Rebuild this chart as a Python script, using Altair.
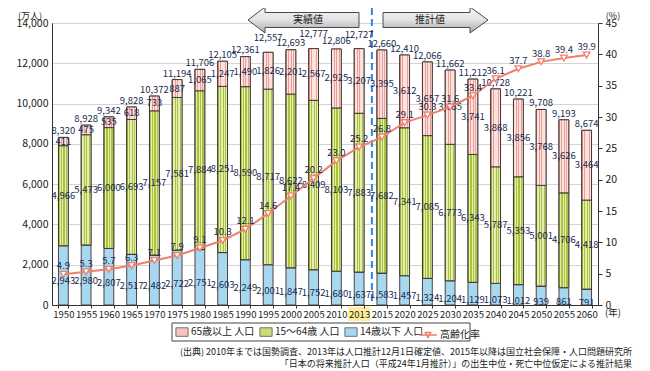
import altair as alt
import pandas as pd

years = ["1950", "1955", "1960", "1965", "1970", "1975", "1980", "1985", "1990", "1995",
         "2000", "2005", "2010", "2013", "2015", "2020", "2025", "2030", "2035", "2040",
         "2045", "2050", "2055", "2060"]
under14 = [2943, 2980, 2807, 2517, 2482, 2722, 2751, 2603, 2249, 2001, 1847, 1752, 1680,
           1637, 1583, 1457, 1324, 1204, 1129, 1073, 1012, 939, 861, 791]
age15_64 = [4966, 5473, 6000, 6693, 7157, 7581, 7884, 8251, 8590, 8717, 8622, 8409, 8103,
            7883, 7682, 7341, 7085, 6773, 6343, 5787, 5353, 5001, 4706, 4418]
over65 = [411, 475, 535, 618, 733, 887, 1065, 1247, 1490, 1826, 2201, 2567, 2925,
          3207, 3395, 3612, 3657, 3685, 3741, 3868, 3856, 3768, 3626, 3464]
totals = [8320, 8928, 9342, 9828, 10372, 11194, 11706, 12105, 12361, 12557, 12693, 12777,
          12806, 12727, 12660, 12410, 12066, 11662, 11212, 10728, 10221, 9708, 9193, 8674]
aging_rate = [4.9, 5.3, 5.7, 6.3, 7.1, 7.9, 9.1, 10.3, 12.1, 14.6, 17.4, 20.2, 23.0, 25.2,
              26.8, 29.1, 30.3, 31.6, 33.4, 36.1, 37.7, 38.8, 39.4, 39.9]

G65 = "65歳以上 人口"
G15 = "15～64歳 人口"
G14 = "14歳以下 人口"
GR = "高齢化率"
bar_groups = [G65, G15, G14]
bar_colors = ["#F6C4BE", "#CADB78", "#A8D8F0"]

rows = []
for i, y in enumerate(years):
    rows.append({"year": y, "group": G14, "value": under14[i], "order": 0})
    rows.append({"year": y, "group": G15, "value": age15_64[i], "order": 1})
    rows.append({"year": y, "group": G65, "value": over65[i], "order": 2})
long_df = pd.DataFrame(rows)
tot_df = pd.DataFrame({"year": years, "total": totals})
rate_df = pd.DataFrame({"year": years, "rate": aging_rate, "g": [GR] * len(years)})

FONT = "Noto Sans CJK JP"
TXT = "#1c2b50"
SALMON = "#F0806C"
LFS = 9.5  # data label font size


def stripes(c1, c2, n, frac):
    stops = []
    for k in range(n):
        a = k / n
        b = a + frac / n
        e = (k + 1) / n
        stops += [(a, c1), (b, c1), (b, c2), (e, c2)]
    return alt.Gradient(gradient="linear", x1=0, x2=1, y1=0, y2=0,
                        stops=[alt.GradientStop(offset=round(o, 4), color=c) for o, c in stops])


green_grad = stripes("#A9C43C", "#E4EDB2", 4, 0.5)
pink_grad = stripes("#EF9C94", "#FBE2DF", 4, 0.35)
arrow_grad = alt.Gradient(gradient="linear", x1=0, x2=0, y1=0, y2=1,
                          stops=[alt.GradientStop(offset=0, color="#f7f7f7"),
                                 alt.GradientStop(offset=0.5, color="#e2e2e2"),
                                 alt.GradientStop(offset=1, color="#a9a9a9")])

RECT_SYM = "M-1,-0.7L1,-0.7L1,0.7L-1,0.7Z"
LINE_SYM = "M-1,0L1,0M-0.3,-0.28L0.3,-0.28L0,0.28Z"

bar_legend = alt.Legend(
    title=None, orient="none", legendX=123, legendY=302, direction="horizontal",
    labelFontSize=10, labelColor="#222", labelFont=FONT, columnPadding=3, labelOffset=2,
    symbolSize=150, symbolType=RECT_SYM, symbolStrokeColor="#555", symbolStrokeWidth=0.8,
    symbolOpacity=1)
line_legend = alt.Legend(
    title=None, orient="none", legendX=366, legendY=302, direction="horizontal",
    labelFontSize=10, labelColor="#222", labelFont=FONT, labelOffset=2,
    symbolSize=324, symbolType=LINE_SYM, symbolStrokeColor=SALMON, symbolFillColor="white",
    symbolStrokeWidth=1.5, symbolOpacity=1)

X = alt.X("year:N", sort=years,
          scale=alt.Scale(paddingInner=0.57, paddingOuter=0.285),
          axis=alt.Axis(title=None, labelAngle=0, labelFontSize=9.5, labelOverlap=False,
                        labelFlush=False, tickBand="extent", tickSize=3, labelPadding=1,
                        zindex=1, labelColor="#222"))
yL_scale = alt.Scale(domain=[0, 14000], nice=False)
yL_axis = alt.Axis(title=None, values=list(range(0, 14001, 2000)), format=",d", grid=True,
                   gridColor="#d4d4d4", ticks=False, labelPadding=4, labelFontSize=10.5)

base = alt.Chart(long_df).transform_stack(
    stack="value", groupby=["year"], as_=["y0", "y1"],
    sort=[alt.SortField("order", order="ascending")]
).transform_calculate(mid="(datum.y0 + datum.y1) / 2")

bars = base.mark_bar(stroke="#3a3030", strokeWidth=0.9).encode(
    x=X,
    y=alt.Y("y0:Q", scale=yL_scale, axis=yL_axis),
    y2="y1:Q",
    color=alt.Color("group:N", scale=alt.Scale(domain=bar_groups, range=bar_colors),
                    legend=bar_legend),
)
green_over = base.transform_filter(alt.datum.group == G15).mark_bar(
    fill=green_grad, stroke="#3a3030", strokeWidth=0.9).encode(
    x=X, y=alt.Y("y0:Q", scale=yL_scale, axis=yL_axis), y2="y1:Q")
pink_over = base.transform_filter(alt.datum.group == G65).mark_bar(
    fill=pink_grad, stroke="#3a3030", strokeWidth=0.9).encode(
    x=X, y=alt.Y("y0:Q", scale=yL_scale, axis=yL_axis), y2="y1:Q")

lbl65 = base.transform_filter(alt.datum.group == G65).mark_text(
    fontSize=LFS, color=TXT, font=FONT).encode(
    x=X, y=alt.Y("mid:Q", scale=yL_scale, axis=yL_axis), text=alt.Text("value:Q", format=",d"))
lbl15 = base.transform_filter(alt.datum.group == G15).mark_text(
    fontSize=LFS, color=TXT, font=FONT).encode(
    x=X, y=alt.Y("mid:Q", scale=yL_scale, axis=yL_axis), text=alt.Text("value:Q", format=",d"))
lbl14 = base.transform_filter(alt.datum.group == G14).mark_text(
    fontSize=LFS, color=TXT, font=FONT, dy=6).encode(
    x=X, y=alt.Y("mid:Q", scale=yL_scale, axis=yL_axis), text=alt.Text("value:Q", format=",d"))

stagger = "indexof(['1995', '2005', '2013'], datum.year) >= 0"
lbl_tot = alt.Chart(tot_df).transform_filter("!(" + stagger + ")").mark_text(
    fontSize=LFS, color=TXT, font=FONT, baseline="bottom", dy=-1).encode(
    x=X, y=alt.Y("total:Q", scale=yL_scale, axis=yL_axis), text=alt.Text("total:Q", format=",d"))
lbl_tot_hi = alt.Chart(tot_df).transform_filter(stagger).mark_text(
    fontSize=LFS, color=TXT, font=FONT, baseline="bottom", dy=-9).encode(
    x=X, y=alt.Y("total:Q", scale=yL_scale, axis=yL_axis), text=alt.Text("total:Q", format=",d"))

hl = alt.Chart(pd.DataFrame({"year": ["2013"]})).mark_bar(width=22, fill="#FFEF9A").encode(
    x=X, y=alt.value(284), y2=alt.value(298))

divider = alt.Chart(pd.DataFrame({"year": ["2015"]})).mark_rule(
    strokeDash=[7, 4], color="#2E86DE", strokeWidth=2, xOffset=-10).encode(
    x=X, y=alt.value(-15), y2=alt.value(282))

left = alt.layer(hl, bars, green_over, pink_over, divider, lbl65, lbl15, lbl14,
                 lbl_tot, lbl_tot_hi)

yR_scale = alt.Scale(domain=[0, 45], nice=False)
yR_axis = alt.Axis(title=None, orient="right", values=list(range(0, 46, 5)), grid=False,
                   tickSize=4, labelPadding=3, labelFontSize=10.5)
rate_base = alt.Chart(rate_df)
rline = rate_base.mark_line(strokeWidth=2).encode(
    x=X, y=alt.Y("rate:Q", scale=yR_scale, axis=yR_axis),
    stroke=alt.Stroke("g:N", scale=alt.Scale(domain=[GR], range=[SALMON]), legend=line_legend),
)
rpts = rate_base.mark_point(shape="triangle-down", filled=True, fill="white", stroke=SALMON,
                            strokeWidth=1.3, size=45, opacity=1).encode(
    x=X, y=alt.Y("rate:Q", scale=yR_scale, axis=yR_axis))
rlbl = rate_base.mark_text(fontSize=LFS, color=TXT, font=FONT, baseline="bottom", dy=-3).encode(
    x=X, y=alt.Y("rate:Q", scale=yR_scale, axis=yR_axis), text=alt.Text("rate:Q", format=".1f"))
right = alt.layer(rline, rpts, rlbl)


def note(text, x, y, size=10, align="center", color="#222"):
    return alt.Chart(pd.DataFrame({"t": [text]})).mark_text(
        fontSize=size, align=align, baseline="middle", color=color, font=FONT).encode(
        x=alt.value(x), y=alt.value(y), text="t:N")


# arrow outlines in pixel units (size=4 -> path scale 1)
arrow_left = alt.Chart(pd.DataFrame({"a": [0]})).mark_point(
    shape="M-55.5,0L-38.5,-13L-38.5,-7.5L55.5,-7.5L55.5,7.5L-38.5,7.5L-38.5,13Z",
    size=4, filled=True, fill=arrow_grad, stroke="#4a4a4a", strokeWidth=1, opacity=1
).encode(x=alt.value(251.5), y=alt.value(-3))
arrow_right = alt.Chart(pd.DataFrame({"a": [0]})).mark_point(
    shape="M52.5,0L34.5,-13L34.5,-7.5L-52.5,-7.5L-52.5,7.5L34.5,7.5L34.5,13Z",
    size=4, filled=True, fill=arrow_grad, stroke="#4a4a4a", strokeWidth=1, opacity=1
).encode(x=alt.value(383.5), y=alt.value(-3))

legend_box = alt.Chart(pd.DataFrame({"a": [0]})).mark_rect(
    fill="white", stroke="#444", strokeWidth=1).encode(
    x=alt.value(120), x2=alt.value(418), y=alt.value(300), y2=alt.value(318))

notes = [
    legend_box, arrow_left, arrow_right,
    note("実績値", 256, -3),
    note("推計値", 378, -3),
    note("(万人)", -22, -7.5, size=9),
    note("(%)", 561, -7.5, size=9),
    note("(年)", 553, 290, size=9.5, align="left"),
    note("(出典) 2010年までは国勢調査、2013年は人口推計12月1日確定値、2015年以降は国立社会保障・人口問題研究所",
         580, 329, size=9, align="right"),
    note("「日本の将来推計人口（平成24年1月推計）」の出生中位・死亡中位仮定による推計結果",
         580, 341, size=9, align="right"),
]

chart = alt.layer(left, right, *notes).resolve_scale(y="independent").properties(
    width=546, height=282,
    padding={"left": 44, "top": 15, "right": 44, "bottom": 66},
    autosize=alt.AutoSizeParams(type="none"),
).configure(font=FONT).configure_view(stroke="#555", strokeWidth=1).configure_axis(
    labelFont=FONT, labelColor="#222", domainColor="#333", tickColor="#333")

chart.save("out.html", embed_options={"renderer": "svg", "actions": False})
